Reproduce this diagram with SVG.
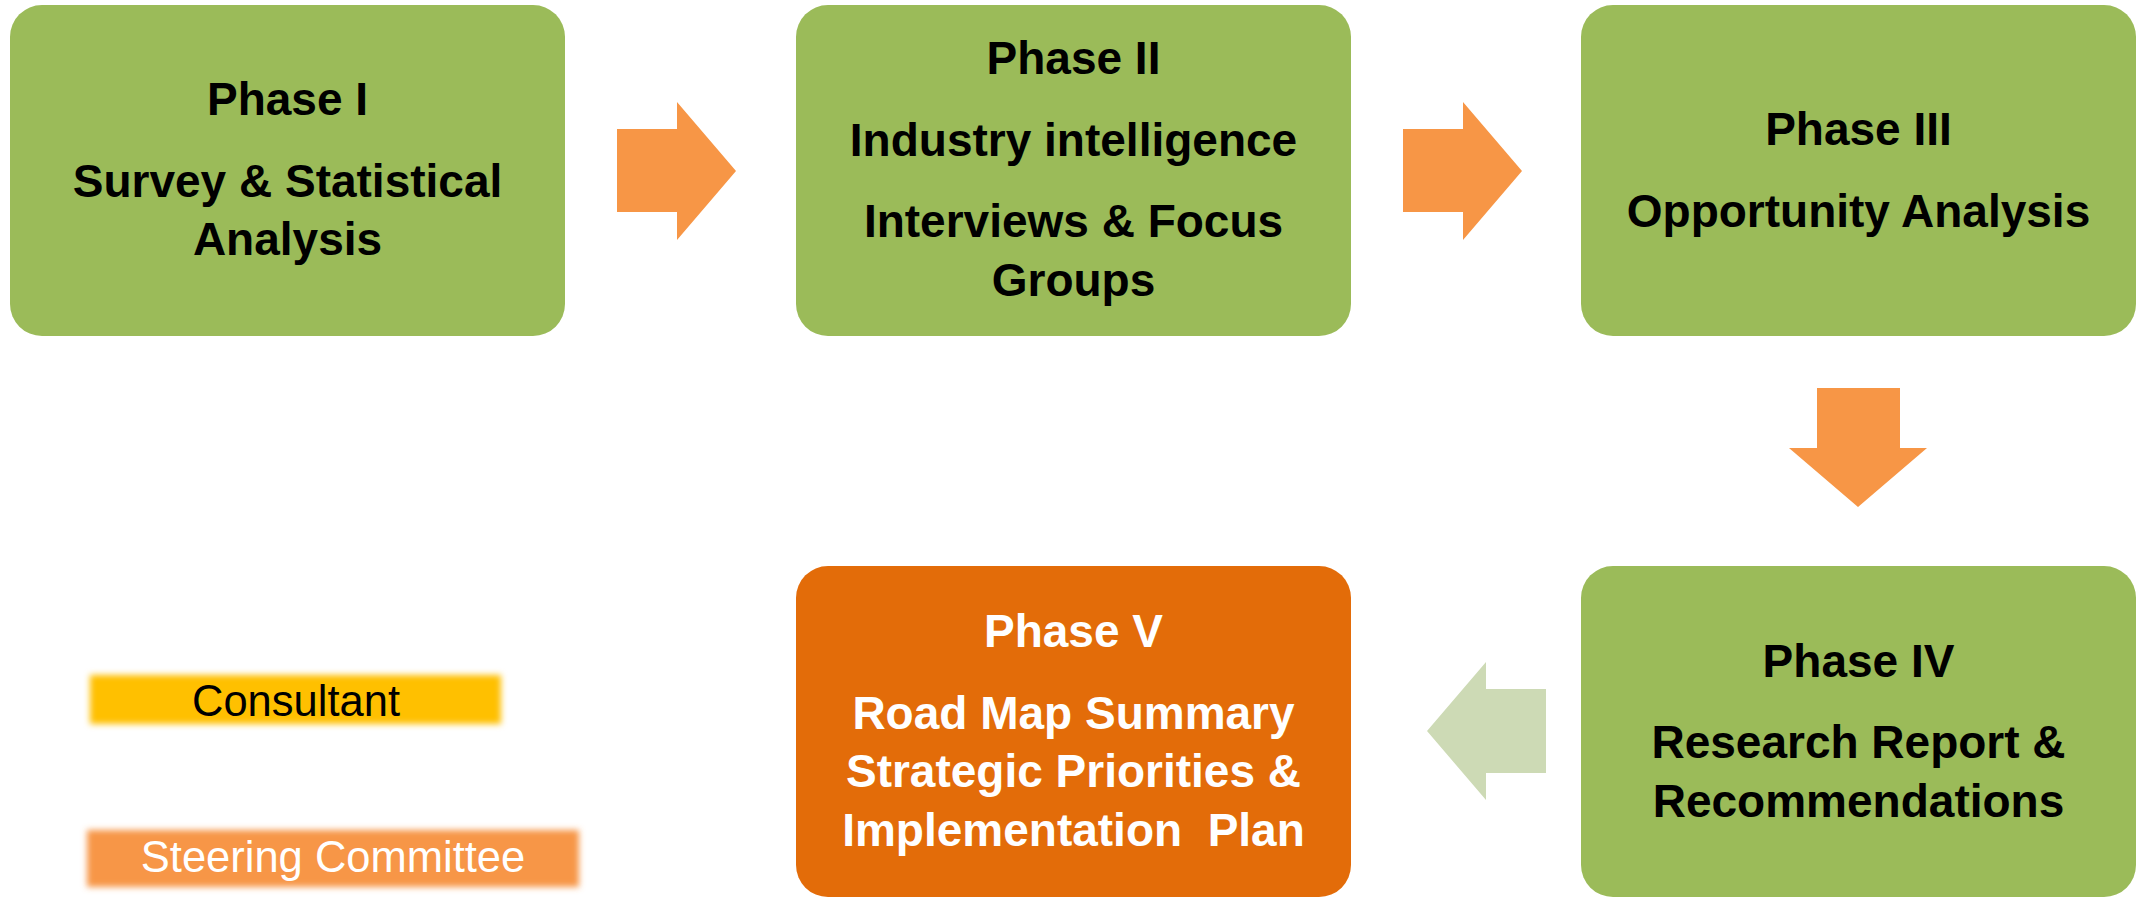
<svg xmlns="http://www.w3.org/2000/svg" width="2136" height="899" viewBox="0 0 2136 899">
  <style>
    .phase { fill: #9BBB59; }
    .final { fill: #E36C09; }
    .arrow { fill: #F79646; }
    .back { fill: #CDDAB5; }
    .lbl { font-family: "Liberation Sans", Arial, sans-serif; font-weight: bold; font-size: 46px; text-anchor: middle; fill: #000000; }
    .lbl-w { fill: #FFFFFF; white-space: pre; }
    .key { font-family: "Liberation Sans", Arial, sans-serif; font-size: 43.5px; text-anchor: middle; }
  </style>
  <defs>
    <filter id="soft" x="-10%" y="-40%" width="120%" height="180%">
      <feGaussianBlur stdDeviation="3"/>
    </filter>
  </defs>
  <rect width="2136" height="899" fill="#FFFFFF"/>

  <!-- process flow arrows -->
  <g id="connectors">
    <polygon class="arrow" points="617,129 677,129 677,102 736,171 677,240 677,212 617,212"/>
    <polygon class="arrow" points="1403,129 1463,129 1463,102 1522,171 1463,240 1463,212 1403,212"/>
    <polygon class="arrow" points="1817,388 1900,388 1900,448 1927,448 1858,507 1789,448 1817,448"/>
    <polygon class="back" points="1546,689 1486,689 1486,662 1427,731 1486,800 1486,773 1546,773"/>
  </g>

  <g id="phase1">
    <rect class="phase" x="10" y="5" width="555" height="331" rx="32"/>
    <text class="lbl" x="287.5" y="115">Phase I</text>
    <text class="lbl" x="287.5" y="197">Survey &amp; Statistical</text>
    <text class="lbl" x="287.5" y="255">Analysis</text>
  </g>

  <g id="phase2">
    <rect class="phase" x="796" y="5" width="555" height="331" rx="32"/>
    <text class="lbl" x="1073.5" y="74">Phase II</text>
    <text class="lbl" x="1073.5" y="156">Industry intelligence</text>
    <text class="lbl" x="1073.5" y="237">Interviews &amp; Focus</text>
    <text class="lbl" x="1073.5" y="296">Groups</text>
  </g>

  <g id="phase3">
    <rect class="phase" x="1581" y="5" width="555" height="331" rx="32"/>
    <text class="lbl" x="1858.5" y="145">Phase III</text>
    <text class="lbl" x="1858.5" y="227">Opportunity Analysis</text>
  </g>

  <g id="phase4">
    <rect class="phase" x="1581" y="566" width="555" height="331" rx="32"/>
    <text class="lbl" x="1858.5" y="677">Phase IV</text>
    <text class="lbl" x="1858.5" y="758">Research Report &amp;</text>
    <text class="lbl" x="1858.5" y="817">Recommendations</text>
  </g>

  <g id="phase5">
    <rect class="final" x="796" y="566" width="555" height="331" rx="32"/>
    <text class="lbl lbl-w" x="1073.5" y="647">Phase V</text>
    <text class="lbl lbl-w" x="1073.5" y="729">Road Map Summary</text>
    <text class="lbl lbl-w" x="1073.5" y="787">Strategic Priorities &amp;</text>
    <text class="lbl lbl-w" x="1073.5" y="846">Implementation  Plan</text>
  </g>

  <!-- legend -->
  <g id="legend-consultant">
    <rect x="90" y="675" width="411" height="49" fill="#FFC000" filter="url(#soft)"/>
    <text class="key" x="296" y="716" fill="#000000">Consultant</text>
  </g>
  <g id="legend-steering">
    <rect x="87" y="830" width="492" height="57" fill="#F79646" filter="url(#soft)"/>
    <text class="key" x="333" y="872" fill="#FFFFFF">Steering Committee</text>
  </g>
</svg>
